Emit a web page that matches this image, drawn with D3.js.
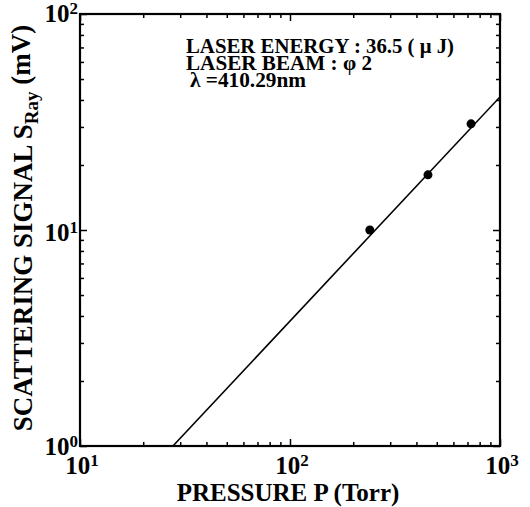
<!DOCTYPE html>
<html>
<head>
<meta charset="utf-8">
<script src="https://cdn.jsdelivr.net/npm/d3@7"></script>
<style>
  body { margin: 0; background: #fff; }
  text { font-family: "Liberation Serif", "Times New Roman", serif; font-weight: bold; fill: #000; }
</style>
</head>
<body>
<div id="chart"></div>
<script>
// data
var pressure = [240, 454, 728];
var signal = [10, 18, 31];
var fitP = [27.7, 1000];
var fitS = [1, 41.3];
var xDecades = [10, 100, 1000];
var yDecades = [1, 10, 100];
var notes = ["LASER ENERGY : 36.5 ( \u03bc J)", "LASER BEAM : \u03c6 2", "\u03bb =410.29nm"];
var noteWidths = [268, 186, 116];

var svgWidth = 530, svgHeight = 507;
var margin = {top: 14, right: 30, bottom: 61, left: 80};
var width = svgWidth - margin.left - margin.right,
    height = svgHeight - margin.top - margin.bottom;

var svg = d3.select("#chart").append("svg")
  .attr("width", svgWidth)
  .attr("height", svgHeight);

var chart = svg.append("g")
  .attr("transform", "translate(" + margin.left + "," + margin.top + ")");

var x = d3.scaleLog().domain([10, 1000]).range([0, width]);
var y = d3.scaleLog().domain([1, 100]).range([height, 0]);

// minor + major ticks, all pointing inward
var xMinor = [], yMinor = [];
[10, 100].forEach(function(d) { for (var k = 2; k < 10; k++) xMinor.push(d * k); });
[1, 10].forEach(function(d) { for (var k = 2; k < 10; k++) yMinor.push(d * k); });

function ticks(axis, vals, size) {
  return axis.tickValues(vals).tickSize(-size).tickFormat("");
}

[[d3.axisBottom, height], [d3.axisTop, 0]].forEach(function(a) {
  chart.append("g").attr("transform", "translate(0," + a[1] + ")")
    .call(ticks(a[0](x), xMinor, 4));
  chart.append("g").attr("transform", "translate(0," + a[1] + ")")
    .call(ticks(a[0](x), xDecades, 7));
});
[[d3.axisLeft, 0], [d3.axisRight, width]].forEach(function(a) {
  chart.append("g").attr("transform", "translate(" + a[1] + ",0)")
    .call(ticks(a[0](y), yMinor, 4));
  chart.append("g").attr("transform", "translate(" + a[1] + ",0)")
    .call(ticks(a[0](y), yDecades, 7));
});
chart.selectAll(".domain").remove();
chart.selectAll(".tick line").attr("stroke", "#000").attr("stroke-width", 1.5);

chart.append("rect")
  .attr("width", width)
  .attr("height", height)
  .attr("fill", "none")
  .attr("stroke", "#000")
  .attr("stroke-width", 2.2);

// tick labels
function powLabel(sel, exp) {
  sel.append("tspan").text("10");
  sel.append("tspan").attr("dy", "-0.45em").attr("font-size", "17px").text(exp);
}
yDecades.forEach(function(d) {
  var t = chart.append("text")
    .attr("x", -2)
    .attr("y", y(d) + (d === 100 ? 8 : d === 1 ? 9 : 11))
    .attr("text-anchor", "end")
    .attr("font-size", "25px");
  powLabel(t, Math.round(Math.log10(d)));
});
xDecades.forEach(function(d) {
  var t = chart.append("text")
    .attr("x", x(d) + 2)
    .attr("y", height + 28)
    .attr("text-anchor", "middle")
    .attr("font-size", "25px");
  powLabel(t, Math.round(Math.log10(d)));
});

// fit line
chart.append("clipPath").attr("id", "clip")
  .append("rect").attr("width", width).attr("height", height);

chart.append("line")
  .attr("clip-path", "url(#clip)")
  .attr("x1", x(fitP[0])).attr("y1", y(fitS[0]))
  .attr("x2", x(fitP[1])).attr("y2", y(fitS[1]))
  .attr("stroke", "#000")
  .attr("stroke-width", 1.6);

chart.selectAll("circle")
  .data(pressure)
  .enter().append("circle")
  .attr("cx", function(d) { return x(d); })
  .attr("cy", function(d, i) { return y(signal[i]); })
  .attr("r", 4.5)
  .attr("fill", "#000");

// annotation
chart.selectAll(".note")
  .data(notes)
  .enter().append("text")
  .attr("class", "note")
  .attr("x", function(d, i) { return i === 2 ? 110 : 106; })
  .attr("y", function(d, i) { return 39 + i * 17; })
  .attr("font-size", "20px")
  .attr("textLength", function(d, i) { return noteWidths[i]; })
  .attr("lengthAdjust", "spacingAndGlyphs")
  .text(function(d) { return d; });

// axis titles
chart.append("text")
  .attr("x", width / 2 - 2)
  .attr("y", height + 55)
  .attr("text-anchor", "middle")
  .attr("font-size", "25px")
  .text("PRESSURE P (Torr)");

var yt = chart.append("text")
  .attr("transform", "translate(" + (-48) + "," + (height / 2 - 2) + ") rotate(-90)")
  .attr("text-anchor", "middle")
  .attr("font-size", "27px");
yt.append("tspan").text("SCATTERING SIGNAL S");
yt.append("tspan").attr("dy", "0.3em").attr("font-size", "19px").text("Ray");
yt.append("tspan").attr("dy", "-0.3em").text(" (mV)");
</script>
</body>
</html>
